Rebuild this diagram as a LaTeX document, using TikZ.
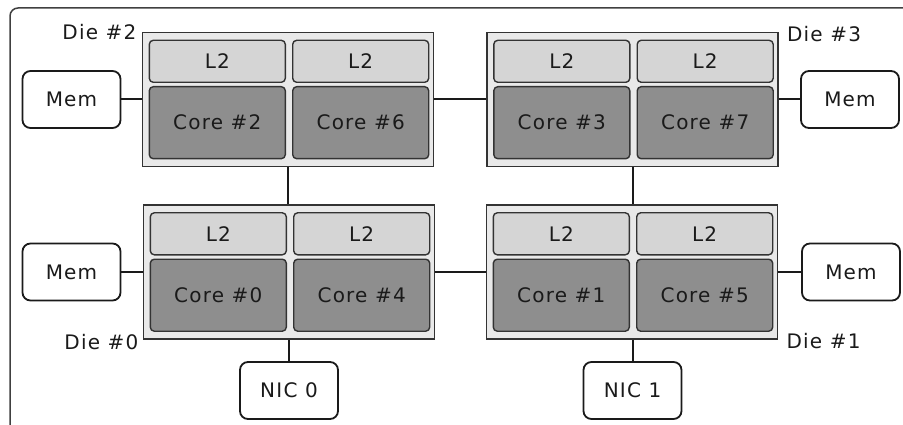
\documentclass[tikz,border=0pt]{standalone}
\usepackage{fontspec}
\setmainfont{DejaVu Sans}[LetterSpace=6]
\usetikzlibrary{calc,positioning}

\definecolor{diefill}{HTML}{E9E9E9}
\definecolor{ltwofill}{HTML}{D5D5D5}
\definecolor{corefill}{HTML}{8E8E8E}
\definecolor{edge}{HTML}{333333}
\definecolor{ink}{HTML}{1A1A1A}

\tikzset{
  die/.style={draw=edge,fill=diefill,line width=1.8pt,minimum width=291pt,minimum height=134pt,inner sep=0pt},
  ltwo/.style={draw=edge,fill=ltwofill,line width=1.4pt,rounded corners=4pt,minimum width=136pt,minimum height=42pt,inner sep=0pt,text=ink},
  core/.style={draw=edge,fill=corefill,line width=1.4pt,rounded corners=4pt,minimum width=136pt,minimum height=72pt,inner sep=0pt,text=ink},
  mem/.style={draw=ink,fill=white,line width=1.8pt,rounded corners=8pt,minimum width=98pt,minimum height=57pt,inner sep=0pt,text=ink},
  dielabel/.style={text=ink,inner sep=0pt},
  link/.style={draw=ink,line width=2pt}
}

\begin{document}
\begin{tikzpicture}[x=1pt,y=-1pt,font=\fontsize{20}{24}\selectfont]
  \useasboundingbox (0,0) rectangle (903,425);
  \begin{scope}
    \clip (0,0) rectangle (903,425);
    \draw[gray!50!black,line width=1.5pt,rounded corners=8pt] (10,8) rectangle (940,460);
  \end{scope}

  % dies with their caches and cores
  \foreach \n/\cx/\cy/\a/\b in {2/288/99.5/2/6, 3/632.5/99.5/3/7, 0/289/272/0/4, 1/632/272/1/5} {
    \node[die] (d\n) at (\cx,\cy) {};
    \node[ltwo,anchor=north west] (la\n) at ($(d\n.north west)+(7,8)$) {L2};
    \node[ltwo,anchor=north west] (lb\n) at ($(la\n.north east)+(6,0)$) {L2};
    \node[core,anchor=north] (ca\n) at ($(la\n.south)+(0,3)$) {Core \#\a};
    \node[core,anchor=north] (cb\n) at ($(lb\n.south)+(0,3)$) {Core \#\b};
  }

  \node[dielabel,anchor=east] (t2) at ($(d2.north west)+(-5,0)$) {Die \#2};
  \node[dielabel,anchor=west] (t3) at ($(d3.north east)+(8,2)$) {Die \#3};
  \node[dielabel,anchor=east] (t0) at ($(d0.south west)+(-4,2)$) {Die \#0};
  \node[dielabel,anchor=west] (t1) at ($(d1.south east)+(8,1)$) {Die \#1};

  % memories and NICs
  \node[mem] (m2) at (71.5,99.5) {Mem};
  \node[mem] (m3) at (850,99.5) {Mem};
  \node[mem] (m0) at (71.5,272) {Mem};
  \node[mem] (m1) at (851,272) {Mem};
  \node[mem] (nic0) at (289,390.5) {NIC 0};
  \node[mem] (nic1) at (632.5,390.5) {NIC 1};

  \draw[link] (m2) -- (d2);
  \draw[link] (d3) -- (m3);
  \draw[link] (m0) -- (d0);
  \draw[link] (d1) -- (m1);
  \draw[link] (d2) -- (d3);
  \draw[link] (d0) -- (d1);
  \draw[link] (d2.south) -- (d2.south |- d0.north);
  \draw[link] (d3.south) -- (d3.south |- d1.north);
  \draw[link] (nic0.north |- d0.south) -- (nic0.north);
  \draw[link] (nic1.north |- d1.south) -- (nic1.north);
\end{tikzpicture}
\end{document}
